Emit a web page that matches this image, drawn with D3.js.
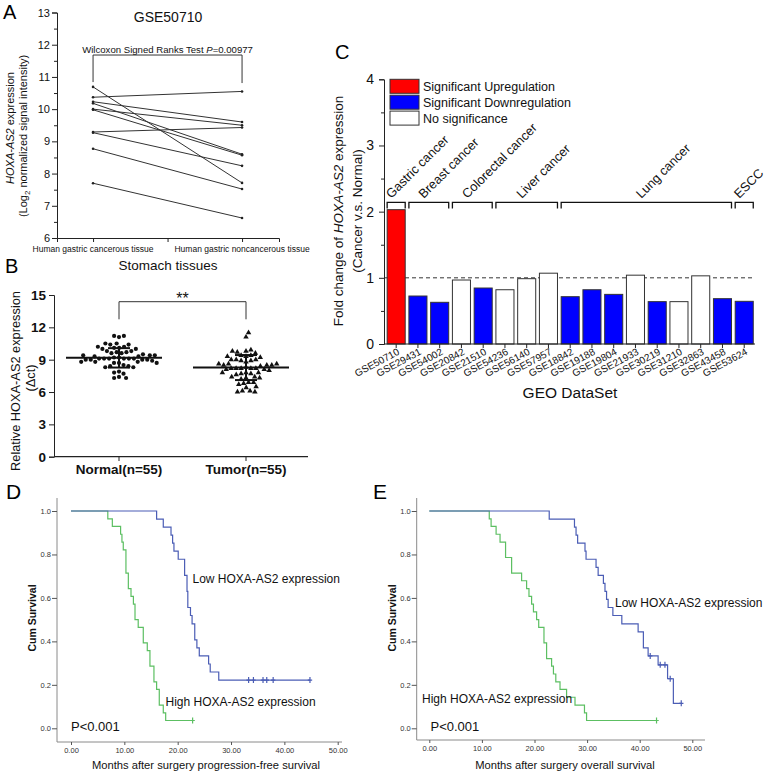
<!DOCTYPE html>
<html><head><meta charset="utf-8">
<script src="https://cdn.jsdelivr.net/npm/d3@7"></script>
<style>body{margin:0;background:#fff}svg{display:block}</style>
</head><body><svg id="c" width="772" height="772"></svg>
<script>
// ---------------- DATA ----------------
// Panel A (GSE50710 paired)
const aGroups = ["Human gastric cancerous tissue", "Human gastric noncancerous tissue"];
const aCancer = [10.69, 10.37, 10.23, 10.18, 10.00, 9.98, 9.29, 9.27, 8.77, 7.70];
const aNonCancer = [7.71, 10.55, 9.60, 8.60, 9.50, 8.57, 9.43, 8.24, 7.52, 6.62];
const aTicks = [6, 7, 8, 9, 10, 11, 12, 13];

// Panel B (qPCR, delta ct)
const bGroups = ["Normal(n=55)", "Tumor(n=55)"];
const bNormal = [11.2, 11.2, 11.1, 10.5, 10.4, 10.4, 10.5, 10.2, 10.1, 10.1, 10.0, 10.0, 10.2,
  9.8, 9.7, 9.7, 9.6, 9.8, 9.6, 9.4, 9.4, 9.3, 9.5, 9.3, 9.4,
  9.1, 9.1, 9.0, 9.1, 9.2, 9.0, 9.1, 9.1, 9.0, 9.2, 9.1, 9.0,
  8.8, 8.7, 8.8, 8.7, 8.9, 8.8, 8.7, 8.4, 8.5, 8.3, 8.4, 8.3,
  7.9, 7.8, 7.7, 7.3, 7.3, 7.4];
const bTumor = [11.5, 11.1, 9.9, 9.8, 9.8, 9.7, 9.6, 9.4, 9.3, 9.3, 9.2, 9.4,
  9.0, 8.9, 9.0, 8.9, 8.8, 9.0, 8.6, 8.5, 8.6, 8.5, 8.6, 8.5, 8.4,
  8.2, 8.2, 8.1, 8.2, 8.3, 8.1, 8.2, 8.0, 8.2,
  7.8, 7.7, 7.8, 7.7, 7.6, 7.8, 7.4, 7.3, 7.4, 7.2, 7.3,
  6.9, 6.8, 6.7, 6.9, 6.4, 6.5, 6.0, 6.1, 6.0, 6.1];
const bMean = [9.17, 8.27];
const bSD = [0.90, 1.16];
const bTicks = [0, 3, 6, 9, 12, 15];

// Panel C (GEO datasets fold change)
const cSets = ["GSE50710", "GSE29431", "GSE54002", "GSE20842", "GSE21510", "GSE54236", "GSE56140", "GSE57957",
  "GSE18842", "GSE19188", "GSE19804", "GSE21933", "GSE30219", "GSE31210", "GSE32863", "GSE43458", "GSE53624"];
const cValues = [2.03, 0.725, 0.63, 0.967, 0.846, 0.82, 0.987, 1.07, 0.715, 0.82, 0.75, 1.04, 0.64, 0.64, 1.03, 0.685, 0.645];
const cSig = ["up", "down", "down", "ns", "down", "ns", "ns", "ns", "down", "down", "down", "ns", "down", "ns", "ns", "down", "down"];
const cGroupNames = ["Gastric cancer", "Breast cancer", "Colorectal cancer", "Liver cancer", "Lung cancer", "ESCC"];
const cGroupFirst = ["GSE50710", "GSE29431", "GSE20842", "GSE54236", "GSE18842", "GSE53624"];
const cGroupLast = ["GSE50710", "GSE54002", "GSE21510", "GSE57957", "GSE43458", "GSE53624"];
const cLegend = ["Significant Upregulation", "Significant Downregulation", "No significance"];
const cTicks = [0, 1, 2, 3, 4];

// Panel D (progression-free survival)
const dHighTime = [0, 6.9, 7.75, 9.3, 9.55, 9.8, 10.3, 10.75, 11.25, 11.7, 12.0, 12.6, 13.55, 14.3, 14.8, 15.55, 16.05, 16.55, 17.3, 17.75];
const dHighSurv = [1, .964, .929, .893, .857, .821, .714, .643, .607, .571, .500, .464, .393, .357, .286, .214, .179, .107, .071, .036];
const dHighEnd = 22.8;
const dHighCensor = [22.8];
const dLowTime = [0, 16.05, 17.3, 18.75, 19.05, 19.3, 20.1, 21.3, 21.75, 21.9, 22.4, 22.7, 23.2, 23.6, 24.05, 25.8, 26.1, 27.7];
const dLowSurv = [1, .963, .926, .889, .852, .815, .778, .704, .630, .556, .519, .481, .407, .370, .333, .296, .259, .222];
const dLowEnd = 44.8;
const dLowCensor = [33.3, 34.2, 36.0, 36.7, 37.9, 44.8];

// Panel E (overall survival)
const eHighTime = [0, 11.4, 11.75, 12.7, 13.45, 14.5, 15.65, 17.55, 18.5, 18.95, 19.45, 19.8, 20.4, 20.8, 21.8, 22.3, 23.25, 23.6, 24.05, 24.85, 26.1, 27.7, 29.5, 29.9];
const eHighSurv = [1, .964, .929, .893, .857, .786, .714, .679, .643, .607, .571, .536, .500, .464, .393, .321, .286, .250, .214, .179, .143, .107, .071, .036];
const eHighEnd = 43.2;
const eHighCensor = [43.2];
const eLowTime = [0, 22.8, 27.6, 27.9, 28.2, 29.6, 29.8, 31.7, 32.1, 33.1, 33.4, 33.7, 34.0, 34.9, 36.6, 39.7, 40.7, 41.6, 43.5, 45.3, 46.4];
const eLowSurv = [1, .963, .926, .889, .852, .815, .778, .741, .704, .667, .630, .593, .556, .519, .481, .444, .370, .333, .292, .228, .115];
const eLowEnd = 47.9;
const eLowCensor = [42.0, 43.9, 44.8, 45.8, 47.9];

const kmTicksX = [0, 10, 20, 30, 40, 50];
const kmTicksY = [0, 0.2, 0.4, 0.6, 0.8, 1.0];

// ---------------- DRAW ----------------
const FONT = '"Liberation Sans", Arial, Helvetica, sans-serif';
const svg = d3.select("#c").attr("font-family", FONT);
svg.append("rect").attr("width", 772).attr("height", 772).attr("fill", "#fff");

function styleAxis(g, size, weight, col) {
  g.selectAll("path.domain").attr("stroke", col || "#222");
  g.selectAll(".tick line").attr("stroke", col || "#222");
  g.selectAll(".tick text").attr("font-size", size).attr("font-family", FONT)
    .attr("fill", "#111").attr("font-weight", weight || "normal");
}
function letter(t, x, y, s) {
  svg.append("text").attr("x", x).attr("y", y).attr("font-size", s || 20).attr("fill", "#000").text(t);
}

// ===== Panel A =====
(function () {
  const g = svg.append("g");
  const y = d3.scaleLinear().domain([6, 13]).range([238, 12.5]);
  const x = d3.scaleLinear().domain([-0.242, 1.248]).range([57, 279]);
  g.append("g").attr("transform", "translate(57,0)")
    .call(d3.axisLeft(y).tickValues(aTicks).tickSize(5).tickPadding(2).tickFormat(d3.format("d")))
    .call(a => styleAxis(a, 11));
  g.append("g").attr("transform", "translate(57,0)")
    .call(d3.axisLeft(y).tickValues(d3.range(6.5, 13, 1)).tickSize(3).tickFormat(""))
    .call(a => { styleAxis(a, 11); a.select(".domain").remove(); });
  g.append("g").attr("transform", "translate(0,238)")
    .call(d3.axisBottom(x).tickValues([0, 0.5, 1]).tickSize(4).tickFormat(""))
    .call(a => styleAxis(a, 8));
  aGroups.forEach((d, i) => {
    g.append("text").attr("x", x(i)).attr("y", 252).attr("text-anchor", "middle")
      .attr("font-size", 8.5).attr("fill", "#111").text(d);
  });
  aCancer.forEach((v, i) => {
    g.append("line").attr("x1", x(0)).attr("y1", y(v)).attr("x2", x(1)).attr("y2", y(aNonCancer[i]))
      .attr("stroke", "#333").attr("stroke-width", 1);
    g.append("circle").attr("cx", x(0)).attr("cy", y(v)).attr("r", 1.3).attr("fill", "#222");
    g.append("circle").attr("cx", x(1)).attr("cy", y(aNonCancer[i])).attr("r", 1.3).attr("fill", "#222");
  });
  g.append("path").attr("d", `M${x(0)},${y(10.84)}V${y(11.68)}H${x(1)}V${y(10.81)}`)
    .attr("fill", "none").attr("stroke", "#333");
  const wt = g.append("text").attr("x", (x(0) + x(1)) / 2).attr("y", 53).attr("text-anchor", "middle")
    .attr("font-size", 9.6).attr("fill", "#111");
  wt.append("tspan").text("Wilcoxon Signed Ranks Test ");
  wt.append("tspan").attr("font-style", "italic").text("P");
  wt.append("tspan").text("=0.00977");
  g.append("text").attr("x", 168).attr("y", 22).attr("text-anchor", "middle").attr("font-size", 14).attr("fill", "#111").text("GSE50710");
  g.append("text").attr("x", 168).attr("y", 270).attr("text-anchor", "middle").attr("font-size", 13.5).attr("fill", "#111").text("Stomach tissues");
  const l1 = g.append("text").attr("transform", "translate(14,128) rotate(-90)").attr("text-anchor", "middle")
    .attr("font-size", 11).attr("fill", "#111");
  l1.append("tspan").attr("font-style", "italic").text("HOXA-AS2");
  l1.append("tspan").text(" expression");
  const l2 = g.append("text").attr("transform", "translate(27,136) rotate(-90)").attr("text-anchor", "middle")
    .attr("font-size", 11).attr("fill", "#111");
  l2.append("tspan").text("(Log");
  l2.append("tspan").attr("font-size", 8).attr("dy", 3).text("2");
  l2.append("tspan").attr("dy", -3).text(" normalized signal intensity)");
})();
letter("A", 3, 19);

// ===== Panel B =====
(function () {
  const g = svg.append("g");
  const y = d3.scaleLinear().domain([0, 15]).range([456.7, 295]);
  const x = d3.scalePoint().domain(bGroups).range([119, 246]);
  g.append("g").attr("transform", "translate(54,0)")
    .call(d3.axisLeft(y).tickValues(bTicks).tickSize(5).tickPadding(3))
    .call(a => styleAxis(a, 13.5, "bold"));
  g.append("line").attr("x1", 54).attr("x2", 308).attr("y1", 456.7).attr("y2", 456.7).attr("stroke", "#222").attr("stroke-width", 1.2);
  bGroups.forEach(d => {
    g.append("line").attr("x1", x(d)).attr("x2", x(d)).attr("y1", 456.7).attr("y2", 461).attr("stroke", "#222");
    g.append("text").attr("x", x(d)).attr("y", 474).attr("text-anchor", "middle").attr("font-size", 13.5)
      .attr("font-weight", "bold").attr("fill", "#111").text(d);
  });
  function swarm(vals, d, center) {
    const pts = vals.map(v => ({ v, py: y(v) })).sort((a, b) => Math.abs(a.v - center) - Math.abs(b.v - center));
    const placed = [];
    pts.forEach((p, idx) => {
      const ints = [];
      placed.forEach(q => {
        const dy = Math.abs(q.py - p.py);
        if (dy < d) { const w = Math.sqrt(d * d - dy * dy); ints.push([q.dx - w, q.dx + w]); }
      });
      const cands = [0];
      ints.forEach(iv => { cands.push(iv[0] - 0.01, iv[1] + 0.01); });
      const ok = cands.filter(c => ints.every(iv => c <= iv[0] || c >= iv[1]));
      ok.sort((a, b) => (Math.abs(a) - Math.abs(b)) || (idx % 2 ? a - b : b - a));
      p.dx = ok[0];
      placed.push(p);
    });
    return placed;
  }
  const sets = [bNormal, bTumor];
  sets.forEach((vals, gi) => {
    const cx = x(bGroups[gi]);
    const pts = swarm(vals, 5.0, bMean[gi]);
    pts.forEach(p => {
      if (gi === 0) g.append("circle").attr("cx", cx + p.dx).attr("cy", p.py).attr("r", 2.1).attr("fill", "#111");
      else g.append("path").attr("d", d3.symbol(d3.symbolTriangle, 13)()).attr("transform", `translate(${cx + p.dx},${p.py})`).attr("fill", "#111");
    });
    const m = bMean[gi], s = bSD[gi];
    g.append("line").attr("x1", cx - 53).attr("x2", cx + 43).attr("y1", y(m)).attr("y2", y(m)).attr("stroke", "#111").attr("stroke-width", 2);
    [m + s, m - s].forEach(v => g.append("line").attr("x1", cx - 11).attr("x2", cx + 11).attr("y1", y(v)).attr("y2", y(v)).attr("stroke", "#111").attr("stroke-width", 2));
    g.append("line").attr("x1", cx).attr("x2", cx).attr("y1", y(m + s)).attr("y2", y(m - s)).attr("stroke", "#111").attr("stroke-width", 2);
  });
  g.append("path").attr("d", `M${x(bGroups[0])},319.3V301.7H${x(bGroups[1])}V319.3`).attr("fill", "none").attr("stroke", "#333");
  g.append("text").attr("x", (x(bGroups[0]) + x(bGroups[1])) / 2).attr("y", 304).attr("text-anchor", "middle")
    .attr("font-size", 16).attr("fill", "#111").text("**");
  g.append("text").attr("transform", "translate(20,381) rotate(-90)").attr("text-anchor", "middle")
    .attr("font-size", 12.8).attr("fill", "#111").text("Relative HOXA-AS2 expression");
  g.append("text").attr("transform", "translate(35,378) rotate(-90)").attr("text-anchor", "middle")
    .attr("font-size", 12.8).attr("fill", "#111").text("(\u0394ct)");
})();
letter("B", 5, 273);

// ===== Panel C =====
(function () {
  const g = svg.append("g");
  const y = d3.scaleLinear().domain([0, 4]).range([344, 79.3]);
  const x = d3.scaleBand().domain(cSets).range([385.3, 755.1]).paddingInner(0.17).paddingOuter(0.085);
  const col = { up: "#ff0000", down: "#0000ff", ns: "#ffffff" };
  g.append("line").attr("x1", 384).attr("x2", 755).attr("y1", y(1)).attr("y2", y(1))
    .attr("stroke", "#333").attr("stroke-dasharray", "4,3").attr("stroke-width", 1);
  cSets.forEach((s, i) => {
    g.append("rect").attr("x", x(s)).attr("y", y(cValues[i])).attr("width", x.bandwidth())
      .attr("height", y(0) - y(cValues[i])).attr("fill", col[cSig[i]]).attr("stroke", "#333").attr("stroke-width", 1);
  });
  g.append("g").attr("transform", "translate(384,0)")
    .call(d3.axisLeft(y).tickValues(cTicks).tickSize(5).tickPadding(5).tickFormat(d3.format("d")))
    .call(a => styleAxis(a, 14));
  g.append("g").attr("transform", "translate(384,0)")
    .call(d3.axisLeft(y).tickValues(d3.range(0.5, 4, 1)).tickSize(3).tickFormat(""))
    .call(a => { styleAxis(a, 14); a.select(".domain").remove(); });
  g.append("line").attr("x1", 384).attr("x2", 755).attr("y1", 344).attr("y2", 344).attr("stroke", "#222").attr("stroke-width", 1.2);
  cSets.forEach(s => {
    const cx = x(s) + x.bandwidth() / 2;
    g.append("line").attr("x1", cx).attr("x2", cx).attr("y1", 344).attr("y2", 348).attr("stroke", "#222");
    g.append("text").attr("transform", `translate(${cx + 4},354) rotate(-28)`).attr("text-anchor", "end")
      .attr("font-size", 10).attr("fill", "#111").text(s);
  });
  g.append("text").attr("x", 570).attr("y", 398).attr("text-anchor", "middle").attr("font-size", 15.5).attr("fill", "#111").text("GEO DataSet");
  cGroupNames.forEach((n, i) => {
    const x0 = x(cGroupFirst[i]), x1 = x(cGroupLast[i]) + x.bandwidth();
    g.append("path").attr("d", `M${x0},208.5V202.3H${x1}V208.5`).attr("fill", "none").attr("stroke", "#111").attr("stroke-width", 1.3);
    g.append("text").attr("transform", `translate(${(x0 + x1) / 2 - 5},199) rotate(-45)`)
      .attr("font-size", 12.8).attr("fill", "#111").text(n);
  });
  const lc = ["#ff0000", "#0000ff", "#ffffff"];
  cLegend.forEach((t, i) => {
    const yy = 79.3 + i * 15.9;
    g.append("rect").attr("x", 390).attr("y", yy).attr("width", 29).attr("height", 14).attr("fill", lc[i]).attr("stroke", "#333");
    g.append("text").attr("x", 423).attr("y", yy + 11.5).attr("font-size", 12.5).attr("fill", "#111").text(t);
  });
  const l1 = g.append("text").attr("transform", "translate(343,211) rotate(-90)").attr("text-anchor", "middle")
    .attr("font-size", 13.5).attr("fill", "#111");
  l1.append("tspan").text("Fold change of ");
  l1.append("tspan").attr("font-style", "italic").text("HOXA-AS2");
  l1.append("tspan").text(" expression");
  g.append("text").attr("transform", "translate(362,211) rotate(-90)").attr("text-anchor", "middle")
    .attr("font-size", 13.5).attr("fill", "#111").text("(Cancer v.s. Normal)");
})();
letter("C", 335, 59);

// ===== Panels D & E =====
function km(cfg) {
  const g = svg.append("g");
  const x = d3.scaleLinear().domain([0, 50]).range(cfg.xr);
  const y = d3.scaleLinear().domain([0, 1]).range([728.3, 511]);
  const ax = "#8a8a8a";
  g.append("line").attr("x1", cfg.left).attr("x2", cfg.left).attr("y1", 498).attr("y2", cfg.bottom).attr("stroke", ax);
  g.append("line").attr("x1", cfg.left).attr("x2", cfg.right).attr("y1", cfg.bottom).attr("y2", cfg.bottom).attr("stroke", ax);
  g.append("g").attr("transform", `translate(${cfg.left},0)`)
    .call(d3.axisLeft(y).tickValues(kmTicksY).tickSize(5).tickPadding(1).tickFormat(d3.format(".1f")))
    .call(a => { styleAxis(a, 7.5, "normal", "#555"); a.select(".domain").remove(); a.selectAll(".tick text").attr("fill", "#333"); });
  g.append("g").attr("transform", `translate(0,${cfg.bottom})`)
    .call(d3.axisBottom(x).tickValues(kmTicksX).tickSize(3).tickPadding(3).tickFormat(d3.format(".2f")))
    .call(a => { styleAxis(a, 7.5, "normal", "#555"); a.select(".domain").remove(); a.selectAll(".tick text").attr("fill", "#333"); });
  const line = d3.line().curve(d3.curveStepAfter).x(d => x(d[0])).y(d => y(d[1]));
  cfg.curves.forEach(c => {
    const pts = c.t.map((t, i) => [t, c.s[i]]);
    pts.push([c.end, c.s[c.s.length - 1]]);
    g.append("path").attr("d", line(pts)).attr("fill", "none").attr("stroke", c.color).attr("stroke-width", 1.2);
    c.censor.forEach(t => {
      const i = d3.bisectRight(c.t, t) - 1;
      const cx = x(t), cy = y(c.s[i]);
      g.append("path").attr("d", `M${cx},${cy - 3}V${cy + 3}M${cx - 2.2},${cy}H${cx + 2.2}`).attr("stroke", c.color).attr("stroke-width", 1.2);
    });
  });
  g.append("text").attr("transform", `translate(${cfg.ylabX},618) rotate(-90)`).attr("text-anchor", "middle")
    .attr("font-size", 10.5).attr("font-weight", "bold").attr("fill", "#111").text("Cum Survival");
  g.append("text").attr("x", cfg.xlabX).attr("y", 769).attr("text-anchor", "middle").attr("font-size", 11.2).attr("fill", "#111").text(cfg.xlab);
  cfg.labels.forEach(l => g.append("text").attr("x", l[1]).attr("y", l[2]).attr("font-size", 12).attr("fill", "#111").text(l[0]));
  g.append("text").attr("x", cfg.pX).attr("y", 731).attr("font-size", 13).attr("fill", "#111").text("P<0.001");
}
km({
  xr: [71, 337.7], left: 57, right: 342, bottom: 742, ylabX: 36, xlabX: 206,
  xlab: "Months after surgery progression-free survival", pX: 71,
  curves: [
    { t: dHighTime, s: dHighSurv, end: dHighEnd, censor: dHighCensor, color: "#5cbf62" },
    { t: dLowTime, s: dLowSurv, end: dLowEnd, censor: dLowCensor, color: "#4b5db5" }
  ],
  labels: [["Low HOXA-AS2 expression", 192.5, 582.5], ["High HOXA-AS2 expression", 165.5, 705.5]]
});
km({
  xr: [429.3, 692.3], left: 416.7, right: 705, bottom: 740, ylabX: 396, xlabX: 565,
  xlab: "Months after surgery overall survival", pX: 430.5,
  curves: [
    { t: eHighTime, s: eHighSurv, end: eHighEnd, censor: eHighCensor, color: "#5cbf62" },
    { t: eLowTime, s: eLowSurv, end: eLowEnd, censor: eLowCensor, color: "#4b5db5" }
  ],
  labels: [["Low HOXA-AS2 expression", 615, 607], ["High HOXA-AS2 expression", 422, 703]]
});
letter("D", 6, 499, 21);
letter("E", 373, 499, 21);
</script>
</body></html>
